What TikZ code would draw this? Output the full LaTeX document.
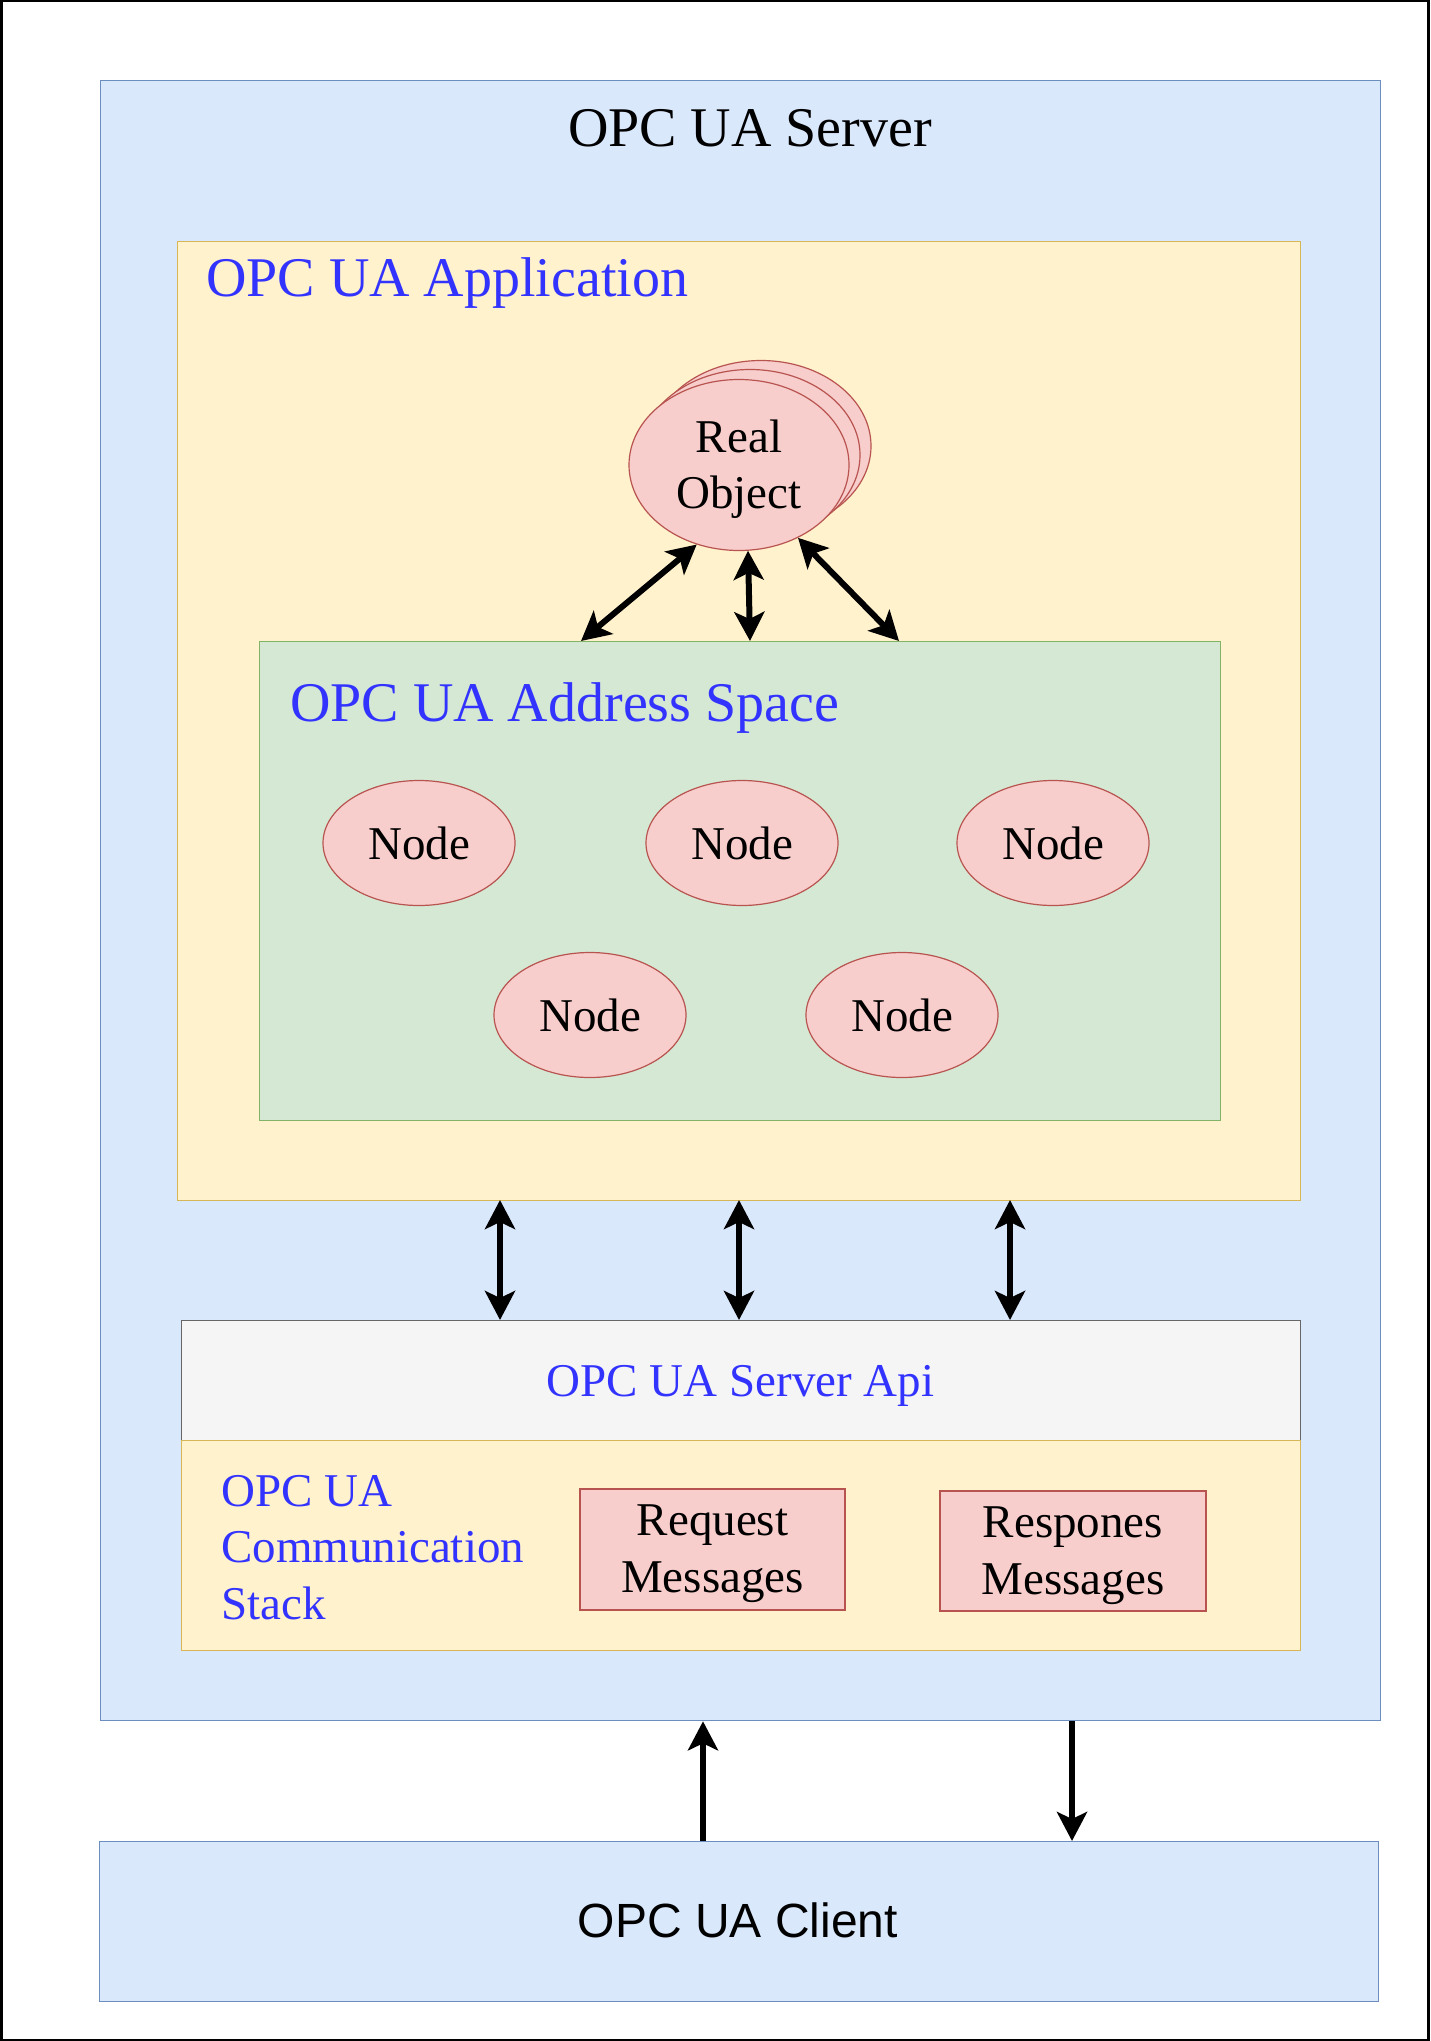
\documentclass[tikz,border=0pt]{standalone}
\usepackage{fontspec}
\setmainfont{Liberation Serif}
\newfontfamily\arialf{Liberation Sans}
\usetikzlibrary{arrows.meta,shapes.geometric}
\definecolor{blueF}{HTML}{DAE8FC}
\definecolor{blueD}{HTML}{6C8EBF}
\definecolor{yelF}{HTML}{FFF2CC}
\definecolor{yelD}{HTML}{D6B656}
\definecolor{greF}{HTML}{D5E8D4}
\definecolor{greD}{HTML}{82B366}
\definecolor{redF}{HTML}{F8CECC}
\definecolor{redD}{HTML}{B85450}
\definecolor{grayF}{HTML}{F5F5F5}
\definecolor{grayD}{HTML}{666666}
\definecolor{txtblue}{HTML}{3333FF}
\tikzset{
  box/.style={rectangle, draw, line width=1.3pt, inner sep=0pt, anchor=north west},
  bluebox/.style={box, fill=blueF, draw=blueD},
  yelbox/.style={box, fill=yelF, draw=yelD},
  grebox/.style={box, fill=greF, draw=greD},
  graybox/.style={box, fill=grayF, draw=grayD},
  msgbox/.style={rectangle, draw=redD, fill=redF, line width=1.3pt, inner sep=0pt, align=center,
     font=\fontsize{47}{57}\selectfont},
  oval/.style={ellipse, draw=redD, fill=redF, line width=1.2pt, inner sep=0pt, align=center,
     font=\fontsize{47}{56}\selectfont},
  bigtitle/.style={inner sep=0pt, font=\fontsize{56}{67}\selectfont},
  midtitle/.style={inner sep=0pt, font=\fontsize{47}{56.5}\selectfont},
  tip/.tip={Stealth[length=29pt, width=30pt, inset=7pt]},
  biarrow/.style={line width=6pt, {tip}-{tip}},
  uniarrow/.style={line width=6pt, -{tip}},
}
\begin{document}
\begin{tikzpicture}[x=1pt, y=-1pt]
\useasboundingbox (0,0) rectangle (1431,2041);
\draw[line width=2.5pt] (1.25,1.25) rectangle (1428.5,2039.75);

% server
\node[bluebox, minimum width=1280pt, minimum height=1640pt] (server) at (100,80) {};
\node[bigtitle, anchor=base] (servert) at (750,147) {OPC UA Server};

% application
\node[yelbox, minimum width=1123pt, minimum height=959pt] (app) at (177,241) {};
\node[bigtitle, anchor=base west, text=txtblue] (appt) at (206,297) {OPC UA Application};

% real object stack
\node[oval, minimum width=220pt, minimum height=171pt] (ro3) at (761,446) {};
\node[oval, minimum width=220pt, minimum height=171pt] (ro2) at (750,455) {};
\node[oval, minimum width=220pt, minimum height=171pt] (ro) at (739,465) {\rule{0pt}{42pt}Real\\Object};

% address space
\node[grebox, minimum width=961pt, minimum height=479pt] (as) at (259,641) {};
\node[bigtitle, anchor=base west, text=txtblue] (ast) at (290,721) {OPC UA Address Space};

\node[oval, minimum width=192pt, minimum height=125pt] (n1) at (419,843) {Node};
\node[oval, minimum width=192pt, minimum height=125pt] (n2) at (742,843) {Node};
\node[oval, minimum width=192pt, minimum height=125pt] (n3) at (1053,843) {Node};
\node[oval, minimum width=192pt, minimum height=125pt] (n4) at (590,1015) {Node};
\node[oval, minimum width=192pt, minimum height=125pt] (n5) at (902,1015) {Node};

\coordinate (asL) at (581,641);
\coordinate (asM) at (750,641);
\coordinate (asR) at (899,641);
\draw[biarrow] (ro.242) -- (asL);
\draw[biarrow] (ro.276) -- (asM);
\draw[biarrow] (ro.309) -- (asR);

% api and stack
\node[graybox, minimum width=1119pt, minimum height=120pt] (api) at (181,1320) {};
\node[midtitle, anchor=base, text=txtblue] (apit) at (740.5,1396) {OPC UA Server Api};
\node[yelbox, minimum width=1119pt, minimum height=210pt] (stack) at (181,1440) {};
\node[midtitle, anchor=north west, align=left, text=txtblue] (stackt) at (221,1475) {OPC UA\\Communication\\Stack};

\node[msgbox, minimum width=265pt, minimum height=121pt] (req) at (712.5,1549.5) {\rule{0pt}{40pt}Request\\Messages};
\node[msgbox, minimum width=266pt, minimum height=120pt] (resp) at (1073,1551) {\rule{0pt}{40pt}Respones\\Messages};

% arrows app <-> api
\coordinate (a1t) at (500,1200); \coordinate (a1b) at (500,1320);
\coordinate (a2t) at (739,1200); \coordinate (a2b) at (739,1320);
\coordinate (a3t) at (1010,1200); \coordinate (a3b) at (1010,1320);
\draw[biarrow] (a1t) -- (a1b);
\draw[biarrow] (a2t) -- (a2b);
\draw[biarrow] (a3t) -- (a3b);

% client
\node[bluebox, minimum width=1279pt, minimum height=160pt] (client) at (99,1841) {};
\node[inner sep=0pt, font=\arialf\fontsize{48}{58}\selectfont] (clientt) at (738,1920) {OPC UA Client};

\draw[uniarrow] (client.north -| 703,0) -- (server.south -| 703,0);
\draw[uniarrow] (server.south -| 1072,0) -- (client.north -| 1072,0);
\end{tikzpicture}
\end{document}
